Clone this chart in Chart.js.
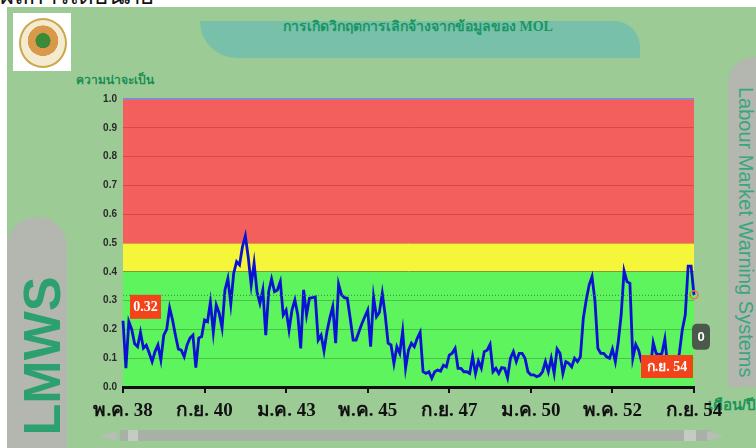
<!DOCTYPE html>
<html>
<head>
<meta charset="utf-8">
<script src="https://cdn.jsdelivr.net/npm/chart.js@4.4.0/dist/chart.umd.min.js"></script>
<style>
    html, body { margin: 0; padding: 0; background: #fff; }
    #page { position: relative; width: 756px; height: 448px; overflow: hidden; background: #fff; }
    #bg { position: absolute; left: 7px; top: 7px; right: 0; bottom: 0; background: #9ccb96; }
    #topText { position: absolute; left: 0; top: -24px; font: 24px "Noto Sans", sans-serif; color: #111; white-space: nowrap; }
    #logo { position: absolute; left: 13px; top: 13px; width: 58px; height: 58px; background: #fff; }
    #logo div { position: absolute; left: 6px; top: 5px; width: 44px; height: 46px; border-radius: 50%;
        border: 2px solid #c9a84a; background: radial-gradient(circle at 50% 45%, #3a8a3a 0 22%, #d89a4a 23% 45%, #f4ead0 46%); }
    #tab { position: absolute; left: 200px; top: 21px; width: 440px; height: 37px; background: #78c0aa;
        border-radius: 0 28px 0 40px; }
    #title { position: absolute; left: 283px; top: 15px; font: bold 14px "Liberation Serif", serif; color: #1a9662; white-space: nowrap; }
    #yTitle { position: absolute; left: 76px; top: 70px; font: bold 12px "Liberation Sans", sans-serif; color: #188f52; white-space: nowrap; }
    #rightBar { position: absolute; left: 728px; top: 57px; width: 40px; height: 330px; background: #b3b7b0; border-radius: 26px 0 0 0; }
    #rightText { position: absolute; left: 734px; top: 87px; writing-mode: vertical-rl; font: 20px "Liberation Sans", sans-serif; color: #3aa67c; white-space: nowrap; }
    #leftBar { position: absolute; left: 7px; top: 217px; width: 60px; height: 240px; background: #b3b7b0; border-radius: 30px 30px 0 0; }
    #lmws { position: absolute; left: 18px; top: 276px; width: 48px; height: 160px; }
    #lmws span { position: absolute; left: 50%; top: 50%; transform: translate(-50%, -50%) rotate(-90deg);
        font: bold 52px "Liberation Sans", sans-serif; color: #2ca06e; white-space: nowrap; }
    #xTitle { position: absolute; left: 708px; top: 393px; font: bold 15px "Liberation Sans", sans-serif; color: #1c9558; white-space: nowrap; }
    #scroll { position: absolute; left: 120px; top: 430px; width: 590px; height: 11px; background: #a8b1a5; }
    #thumbL { position: absolute; left: 128px; top: 430px; width: 10px; height: 11px; background: #c4cbc2; }
    #thumbR { position: absolute; left: 684px; top: 430px; width: 12px; height: 11px; background: #c4cbc2; }
    .arrow { position: absolute; top: 431px; width: 0; height: 0; border-top: 5px solid transparent; border-bottom: 5px solid transparent; }
    #arrL { left: 100px; border-right: 17px solid #b8beb6; }
    #arrR { left: 707px; border-left: 17px solid #b8beb6; }
    #chart { position: absolute; left: 0; top: 0; }
</style>
</head>
<body>
<div id="page">
    <div id="topText">ผลการเตือนภัย</div>
    <div id="bg"></div>
    <div id="logo"><div></div></div>
    <div id="tab"></div>
    <div id="title">การเกิดวิกฤตการเลิกจ้างจากข้อมูลของ MOL</div>
    <div id="rightBar"></div>
    <div id="rightText">Labour Market Warning Systems</div>
    <div id="leftBar"></div>
    <div id="lmws"><span>LMWS</span></div>
    <div id="yTitle">ความน่าจะเป็น</div>
    <div id="xTitle">เดือน/ปี</div>
    <div id="scroll"></div>
    <div id="thumbL"></div>
    <div id="thumbR"></div>
    <div class="arrow" id="arrL"></div>
    <div class="arrow" id="arrR"></div>
    <canvas id="chart" width="756" height="448"></canvas>
</div>
<script>
// เดือนเริ่มต้น พ.ค. 38 ถึง ก.ย. 54 (รายเดือน)
const monthNames = ["ม.ค.", "ก.พ.", "มี.ค.", "เม.ย.", "พ.ค.", "มิ.ย.", "ก.ค.", "ส.ค.", "ก.ย.", "ต.ค.", "พ.ย.", "ธ.ค."];
const startMonth = 4;
const startYear = 38;
const tickEvery = 28;

const probability = [
    0.23, 0.065, 0.227, 0.2, 0.15, 0.14, 0.19, 0.135, 0.145, 0.118,
    0.088, 0.123, 0.146, 0.094, 0.18, 0.2, 0.275, 0.233, 0.18, 0.132,
    0.128, 0.105, 0.146, 0.17, 0.18, 0.067, 0.17, 0.175, 0.233, 0.227,
    0.295, 0.19, 0.285, 0.257, 0.205, 0.337, 0.377, 0.288, 0.395, 0.435,
    0.424, 0.487, 0.525, 0.45, 0.354, 0.43, 0.33, 0.29, 0.337, 0.18,
    0.331, 0.375, 0.331, 0.337, 0.366, 0.25, 0.267, 0.198, 0.267, 0.302,
    0.25, 0.134, 0.337, 0.25, 0.308, 0.31, 0.313, 0.163, 0.18, 0.125,
    0.192, 0.24, 0.279, 0.152, 0.357, 0.32, 0.31, 0.308, 0.238, 0.163,
    0.163, 0.192, 0.22, 0.244, 0.267, 0.14, 0.313, 0.244, 0.259, 0.325,
    0.25, 0.152, 0.146, 0.082, 0.14, 0.117, 0.194, 0.065, 0.128, 0.152,
    0.14, 0.169, 0.19, 0.053, 0.047, 0.053, 0.03, 0.053, 0.059, 0.055,
    0.076, 0.07, 0.111, 0.117, 0.134, 0.065, 0.065, 0.053, 0.053, 0.047,
    0.105, 0.047, 0.09, 0.065, 0.123, 0.128, 0.148, 0.053, 0.065, 0.047,
    0.067, 0.065, 0.032, 0.1, 0.123, 0.088, 0.117, 0.117, 0.1, 0.053,
    0.042, 0.042, 0.036, 0.04, 0.053, 0.088, 0.053, 0.1, 0.047, 0.132,
    0.117, 0.047, 0.088, 0.082, 0.07, 0.1, 0.088, 0.105, 0.238, 0.302,
    0.354, 0.383, 0.3, 0.134, 0.117, 0.117, 0.105, 0.1, 0.132, 0.088,
    0.157, 0.25, 0.403, 0.366, 0.36, 0.1, 0.148, 0.128, 0.088, 0.065,
    0.053, 0.059, 0.155, 0.117, 0.111, 0.117, 0.167, 0.065, 0.065, 0.065,
    0.065, 0.12, 0.2, 0.25, 0.42, 0.42, 0.32
];

const yMin = 0, yMax = 1, yStep = 0.1;
// ระดับความเสี่ยง: ปกติ / เฝ้าระวัง / วิกฤต
const zoneEdges = [0, 0.4, 0.5, 1.0];
const zoneColors = ["#5df45d", "#f5f53a", "#f25f5c"];
const gridGreen = "#47c447";
const gridRed = "#d94848";
const alertCount = 0;

const months = probability.map((_, i) =>
    monthNames[(startMonth + i) % 12] + " " + (startYear + Math.floor((startMonth + i) / 12)));

const zonePlugin = {
    id: "zones",
    beforeDraw(chart) {
        const {ctx, chartArea: a, scales: {y}} = chart;
        ctx.save();
        for (let i = 0; i < zoneColors.length; i++) {
            const top = y.getPixelForValue(zoneEdges[i + 1]);
            const bot = y.getPixelForValue(zoneEdges[i]);
            ctx.fillStyle = zoneColors[i];
            ctx.fillRect(a.left, top, a.right - a.left, bot - top);
        }
        ctx.restore();
    }
};

function labelBox(ctx, text, x, y, w, h, bg, radius) {
    ctx.fillStyle = bg;
    ctx.beginPath();
    ctx.roundRect(x, y, w, h, radius);
    ctx.fill();
    ctx.fillStyle = "#fff";
    ctx.textAlign = "center";
    ctx.textBaseline = "middle";
    ctx.fillText(text, x + w / 2, y + h / 2 + 1);
}

const crosshairPlugin = {
    id: "crosshair",
    afterDatasetsDraw(chart) {
        const {ctx, chartArea: a, scales: {x, y}} = chart;
        const last = probability.length - 1;
        const py = y.getPixelForValue(probability[last]);
        ctx.save();
        ctx.strokeStyle = "#3b8f3b";
        ctx.lineWidth = 1;
        ctx.setLineDash([1, 2]);
        ctx.beginPath();
        ctx.moveTo(a.left, py + 0.5);
        ctx.lineTo(a.right, py + 0.5);
        ctx.stroke();
        ctx.setLineDash([]);
        ctx.font = "bold 14px 'Liberation Serif', serif";
        labelBox(ctx, probability[last].toFixed(2), a.left + 7, py, 31, 24, "#f2431b", 0);
        labelBox(ctx, months[last], x.getPixelForValue(last) - 53, a.bottom - 32, 52, 23, "#f2431b", 0);
        ctx.font = "bold 13px 'Liberation Sans', sans-serif";
        labelBox(ctx, String(alertCount), a.right - 2, py + 29, 18, 26, "#4b594b", 5);
        ctx.restore();
    }
};

new Chart(document.getElementById("chart"), {
    type: "line",
    data: {
        labels: months,
        datasets: [{
            data: probability,
            borderColor: "#0b12d4",
            borderWidth: 2.8,
            tension: 0,
            clip: false,
            pointRadius: ctx => ctx.dataIndex === probability.length - 1 ? 4 : 0,
            pointBorderColor: "#e27a3c",
            pointBorderWidth: 1.5,
            pointBackgroundColor: "rgba(0,0,0,0)"
        }]
    },
    options: {
        responsive: false,
        animation: false,
        events: [],
        layout: {autoPadding: false, padding: {left: 0, top: 99, right: 62, bottom: 0}},
        plugins: {legend: {display: false}, tooltip: {enabled: false}},
        scales: {
            x: {
                afterFit: s => { s.height = 61; },
                border: {color: "#111", width: 3},
                grid: {
                    drawOnChartArea: false,
                    tickLength: 6,
                    lineWidth: 2,
                    color: ctx => ctx.index % tickEvery === 0 ? "#111" : "rgba(0,0,0,0)"
                },
                ticks: {
                    autoSkip: false,
                    maxRotation: 0,
                    padding: 7,
                    color: "#111",
                    font: {family: "'Liberation Serif', serif", size: 19, weight: "bold"},
                    callback: (v, i) => i % tickEvery === 0 ? months[i] : ""
                }
            },
            y: {
                min: yMin,
                max: yMax,
                afterFit: s => { s.width = 123; },
                border: {display: false},
                grid: {
                    drawTicks: false,
                    lineWidth: ctx => ctx.tick.value >= 0.99 ? 2 : 1,
                    color: ctx => {
                        const v = ctx.tick.value;
                        if (v >= 0.99) return "#8c86cc";
                        if (v > 0.45) return v < 0.55 ? "#e0a040" : gridRed;
                        if (v > 0.35) return "#7c9a3c";
                        return gridGreen;
                    }
                },
                ticks: {
                    stepSize: yStep,
                    padding: 6,
                    color: "#2a2a2a",
                    font: {family: "'Liberation Sans', sans-serif", size: 10, weight: "bold"},
                    callback: v => v.toFixed(1)
                }
            }
        }
    },
    plugins: [zonePlugin, crosshairPlugin]
});
</script>
</body>
</html>
